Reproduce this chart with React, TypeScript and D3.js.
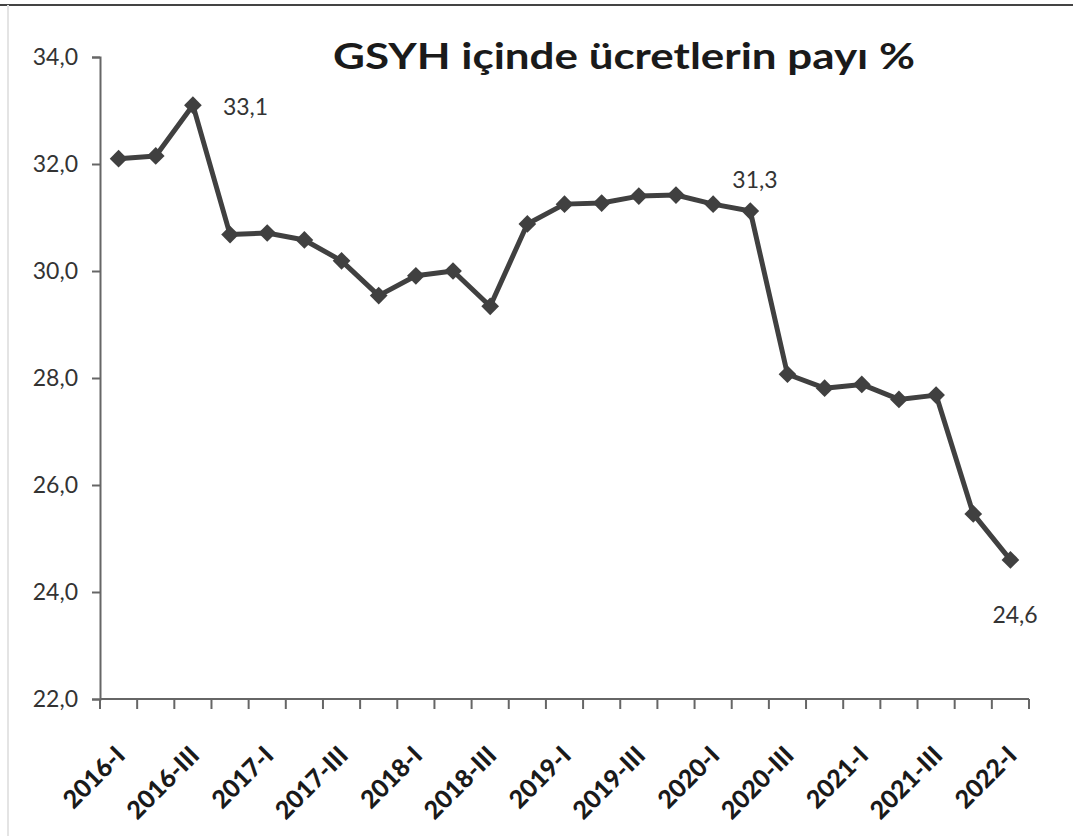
import React, { useEffect, useRef } from "react";
import * as d3 from "d3";

// quarters 2016-I .. 2022-I
const quarters = [
  "2016-I", "2016-II", "2016-III", "2016-IV",
  "2017-I", "2017-II", "2017-III", "2017-IV",
  "2018-I", "2018-II", "2018-III", "2018-IV",
  "2019-I", "2019-II", "2019-III", "2019-IV",
  "2020-I", "2020-II", "2020-III", "2020-IV",
  "2021-I", "2021-II", "2021-III", "2021-IV",
  "2022-I",
];
const shares = [
  32.1, 32.15, 33.1, 30.68,
  30.71, 30.58, 30.19, 29.54,
  29.91, 30.0, 29.34, 30.88,
  31.25, 31.27, 31.4, 31.42,
  31.25, 31.12, 28.07, 27.81,
  27.88, 27.6, 27.68, 25.46,
  24.6,
];
const yTicks = [22, 24, 26, 28, 30, 32, 34];
// data labels shown in the chart
const labelled = [
  { idx: 2, text: "33,1", dx: 30, dy: 10 },
  { idx: 17, text: "31,3", dx: -18, dy: -23 },
  { idx: 24, text: "24,6", dx: -18, dy: 63 },
];
const title = "GSYH içinde ücretlerin payı %";

export default function App() {
  const ref = useRef<SVGSVGElement>(null);

  useEffect(() => {
    const width = 1073;
    const height = 836;
    const margin = { top: 57, right: 44, bottom: 137, left: 100 };
    const font = "Lato, 'Open Sans', sans-serif";

    const svg = d3.select(ref.current);
    svg.selectAll("*").remove();
    svg.attr("width", width).attr("height", height);

    svg.append("rect").attr("width", width).attr("height", height).attr("fill", "#fff");

    // frame lines
    svg.append("line")
      .attr("x1", 0).attr("x2", width).attr("y1", 5).attr("y2", 5)
      .attr("stroke", "#444").attr("stroke-width", 2);
    svg.append("line")
      .attr("x1", 8).attr("x2", 8).attr("y1", 5).attr("y2", height)
      .attr("stroke", "#e4e4e4").attr("stroke-width", 2);

    const xScale = d3.scaleBand()
      .domain(quarters)
      .range([margin.left, width - margin.right])
      .padding(0);

    const yScale = d3.scaleLinear()
      .domain([22, 34])
      .range([height - margin.bottom, margin.top]);

    const xc = (q: string) => (xScale(q) as number) + xScale.bandwidth() / 2;

    // y axis
    const yAxis = svg.append("g")
      .attr("transform", `translate(${margin.left},0)`)
      .call(d3.axisLeft(yScale).tickValues(yTicks).tickSize(8).tickPadding(14)
        .tickFormat(d => d3.format(".1f")(d as number).replace(".", ",")));
    yAxis.select(".domain").attr("stroke", "#666").attr("stroke-width", 2);
    yAxis.selectAll(".tick line").attr("stroke", "#666").attr("stroke-width", 2);
    yAxis.selectAll(".tick text")
      .attr("fill", "#333")
      .style("font-family", font)
      .style("font-size", "23px");

    // x axis with ticks at category boundaries
    const x0 = height - margin.bottom;
    const xAxisG = svg.append("g");
    xAxisG.append("line")
      .attr("x1", margin.left).attr("x2", width - margin.right)
      .attr("y1", x0).attr("y2", x0)
      .attr("stroke", "#666").attr("stroke-width", 2);
    const boundaries = quarters.map(q => xScale(q) as number).concat([width - margin.right]);
    xAxisG.selectAll("line.tk")
      .data(boundaries)
      .enter()
      .append("line")
      .attr("class", "tk")
      .attr("x1", d => d).attr("x2", d => d)
      .attr("y1", x0).attr("y2", x0 + 10)
      .attr("stroke", "#666").attr("stroke-width", 2);

    xAxisG.selectAll("text")
      .data(quarters.filter((_, i) => i % 2 === 0))
      .enter()
      .append("text")
      .attr("transform", d => `translate(${xc(d) + 8},${x0 + 58}) rotate(-45)`)
      .attr("text-anchor", "end")
      .attr("fill", "#1a1a1a")
      .style("font-family", font)
      .style("font-weight", "900")
      .style("font-size", "25px")
      .text(d => d);

    // line
    const line = d3.line<number>()
      .x((_, i) => xc(quarters[i]))
      .y(d => yScale(d));

    svg.append("path")
      .datum(shares)
      .attr("d", line)
      .attr("fill", "none")
      .attr("stroke", "#404040")
      .attr("stroke-width", 5)
      .attr("stroke-linejoin", "round");

    const diamond = d3.symbol().type(d3.symbolDiamond2).size(200);
    svg.selectAll("path.pt")
      .data(shares)
      .enter()
      .append("path")
      .attr("class", "pt")
      .attr("d", diamond)
      .attr("transform", (d, i) => `translate(${xc(quarters[i])},${yScale(d)})`)
      .attr("fill", "#404040");

    // data labels
    svg.selectAll("text.lbl")
      .data(labelled)
      .enter()
      .append("text")
      .attr("class", "lbl")
      .attr("x", d => xc(quarters[d.idx]) + d.dx)
      .attr("y", d => yScale(shares[d.idx]) + d.dy)
      .attr("fill", "#333")
      .style("font-family", font)
      .style("font-size", "23px")
      .text(d => d.text);

    // title
    svg.append("text")
      .attr("x", 333)
      .attr("y", 69)
      .attr("textLength", 582)
      .attr("lengthAdjust", "spacingAndGlyphs")
      .attr("fill", "#1a1a1a")
      .style("font-family", font)
      .style("font-weight", "bold")
      .style("font-size", "37px")
      .text(title);
  }, []);

  return (
    <div style={{ position: "absolute", left: 0, top: 0 }}>
      <svg ref={ref}></svg>
    </div>
  );
}
